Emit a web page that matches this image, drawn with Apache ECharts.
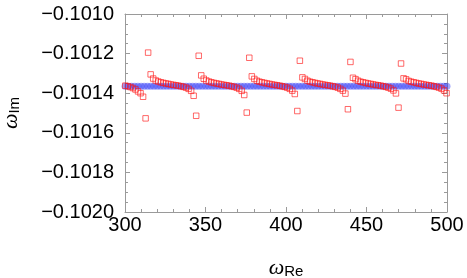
<!DOCTYPE html>
<html>
<head>
<meta charset="utf-8">
<script src="https://cdn.jsdelivr.net/npm/echarts@6/dist/echarts.min.js"></script>
<style>
html,body{margin:0;padding:0;background:#fff;}
#chart{width:467px;height:278px;}
</style>
</head>
<body>
<div id="chart"></div>
<script>
// Red squares: omega_Re and omega_Im
const redRe = [
300.23,301.80,303.37,304.94,306.51,308.08,309.65,311.23,
312.80,314.37,315.94,317.51,319.08,320.65,322.22,323.79,325.36,326.93,328.50,330.08,331.65,333.22,334.79,336.36,337.93,339.50,341.07,342.64,
344.21,345.78,347.35,348.92,350.50,352.07,353.64,355.21,356.78,358.35,359.92,361.49,363.06,364.63,366.20,367.77,369.35,370.92,372.49,374.06,
375.63,377.20,378.77,380.34,381.91,383.48,385.05,386.62,388.19,389.77,391.34,392.91,394.48,396.05,397.62,399.19,400.76,402.33,403.90,405.47,
407.04,408.61,410.19,411.76,413.33,414.90,416.47,418.04,419.61,421.18,422.75,424.32,425.89,427.46,429.04,430.61,432.18,433.75,435.32,436.89,
438.46,440.03,441.60,443.17,444.74,446.31,447.88,449.45,451.03,452.60,454.17,455.74,457.31,458.88,460.45,462.02,463.59,465.16,466.73,468.30,
469.88,471.45,473.02,474.59,476.16,477.73,479.30,480.87,482.44,484.01,485.58,487.15,488.72,490.30,491.87,493.44,495.01,496.58,498.15,499.72
];
const redIm = [
-0.101362,-0.101365,-0.101369,-0.101374,-0.101381,-0.101391,-0.101400,-0.101418,
-0.101527,-0.101195,-0.101305,-0.101326,-0.101336,-0.101341,-0.101345,-0.101348,-0.101351,-0.101353,-0.101356,-0.101358,-0.101360,-0.101362,-0.101365,-0.101368,-0.101372,-0.101378,-0.101388,-0.101413,
-0.101514,-0.101211,-0.101310,-0.101327,-0.101336,-0.101341,-0.101345,-0.101348,-0.101351,-0.101353,-0.101356,-0.101358,-0.101360,-0.101362,-0.101365,-0.101368,-0.101372,-0.101378,-0.101388,-0.101409,
-0.101498,-0.101221,-0.101315,-0.101328,-0.101337,-0.101342,-0.101345,-0.101348,-0.101351,-0.101353,-0.101356,-0.101358,-0.101360,-0.101362,-0.101365,-0.101368,-0.101372,-0.101378,-0.101387,-0.101404,
-0.101490,-0.101236,-0.101320,-0.101328,-0.101337,-0.101342,-0.101345,-0.101348,-0.101351,-0.101353,-0.101356,-0.101358,-0.101360,-0.101362,-0.101365,-0.101368,-0.101372,-0.101378,-0.101387,-0.101402,
-0.101481,-0.101242,-0.101322,-0.101329,-0.101337,-0.101342,-0.101345,-0.101348,-0.101351,-0.101353,-0.101356,-0.101358,-0.101360,-0.101362,-0.101365,-0.101368,-0.101372,-0.101377,-0.101386,-0.101401,
-0.101473,-0.101250,-0.101325,-0.101330,-0.101338,-0.101342,-0.101345,-0.101348,-0.101351,-0.101353,-0.101356,-0.101358,-0.101360,-0.101362,-0.101365,-0.101368,-0.101372,-0.101377,-0.101386,-0.101400
];
// Blue points (dense band)
const blueRe = [
300,302,304,306,308,310,312,314,316,318,320,322,324,326,328,330,332,334,336,338,
340,342,344,346,348,350,352,354,356,358,360,362,364,366,368,370,372,374,376,378,
380,382,384,386,388,390,392,394,396,398,400,402,404,406,408,410,412,414,416,418,
420,422,424,426,428,430,432,434,436,438,440,442,444,446,448,450,452,454,456,458,
460,462,464,466,468,470,472,474,476,478,480,482,484,486,488,490,492,494,496,498,500
];
const blueIm = [
-0.101365,-0.101365,-0.101365,-0.101365,-0.101365,-0.101365,-0.101365,-0.101365,-0.101365,-0.101365,
-0.101365,-0.101365,-0.101365,-0.101365,-0.101365,-0.101365,-0.101365,-0.101365,-0.101365,-0.101365,
-0.101365,-0.101365,-0.101365,-0.101365,-0.101365,-0.101365,-0.101365,-0.101365,-0.101365,-0.101365,
-0.101365,-0.101365,-0.101365,-0.101365,-0.101365,-0.101365,-0.101365,-0.101365,-0.101365,-0.101365,
-0.101365,-0.101365,-0.101365,-0.101365,-0.101365,-0.101365,-0.101365,-0.101365,-0.101365,-0.101365,
-0.101365,-0.101365,-0.101365,-0.101365,-0.101365,-0.101365,-0.101365,-0.101365,-0.101365,-0.101365,
-0.101365,-0.101365,-0.101365,-0.101365,-0.101365,-0.101365,-0.101365,-0.101365,-0.101365,-0.101365,
-0.101365,-0.101365,-0.101365,-0.101365,-0.101365,-0.101365,-0.101365,-0.101365,-0.101365,-0.101365,
-0.101365,-0.101365,-0.101365,-0.101365,-0.101365,-0.101365,-0.101365,-0.101365,-0.101365,-0.101365,
-0.101365,-0.101365,-0.101365,-0.101365,-0.101365,-0.101365,-0.101365,-0.101365,-0.101365,-0.101365,
-0.101365
];
const xMin = 300, xMax = 500, xStep = 50;
const yMin = -0.1020, yMax = -0.1010, yStep = 0.0002;

const axisGray = '#9a9a9a';
const font = 'Liberation Sans, Arial, sans-serif';

function frameAxis(extra) {
  return Object.assign({
    type: 'value',
    axisLine: { show: true, onZero: false, lineStyle: { color: axisGray, width: 1 } },
    axisTick: { show: true, inside: true, length: 5, lineStyle: { color: axisGray } },
    minorTick: { show: true, length: 3, lineStyle: { color: axisGray } },
    splitLine: { show: false },
    minorSplitLine: { show: false }
  }, extra);
}

const chart = echarts.init(document.getElementById('chart'), null, { renderer: 'canvas' });
chart.setOption({
  animation: false,
  backgroundColor: '#fff',
  grid: { left: 125, right: 20, top: 14, bottom: 66, containLabel: false, outerBoundsMode: 'none' },
  xAxis: [
    frameAxis({
      min: xMin, max: xMax, interval: xStep, position: 'bottom',
      minorTick: { show: true, splitNumber: 5, length: 3, lineStyle: { color: axisGray } },
      axisLabel: { fontSize: 20, color: '#000', fontFamily: font, margin: 3 },
      name: '{w|ω}{s|Re}', nameLocation: 'middle', nameGap: 41,
      nameTextStyle: {
        rich: {
          w: { fontSize: 22, fontStyle: 'italic', fontFamily: 'Liberation Serif', color: '#000', lineHeight: 26, verticalAlign: 'bottom' },
          s: { fontSize: 15, fontFamily: font, color: '#000', lineHeight: 14, verticalAlign: 'bottom' }
        }
      }
    }),
    frameAxis({
      min: xMin, max: xMax, interval: xStep, position: 'top',
      minorTick: { show: true, splitNumber: 5, length: 3, lineStyle: { color: axisGray } },
      axisLabel: { show: false }
    })
  ],
  yAxis: [
    frameAxis({
      min: yMin, max: yMax, interval: yStep, position: 'left',
      minorTick: { show: true, splitNumber: 4, length: 3, lineStyle: { color: axisGray } },
      axisLabel: {
        fontSize: 20, color: '#000', fontFamily: font, margin: 11,
        formatter: v => '\u2212' + Math.abs(v).toFixed(4)
      },
      name: '{w|ω}{s|Im}', nameLocation: 'middle', nameGap: 103,
      nameTextStyle: {
        rich: {
          w: { fontSize: 22, fontStyle: 'italic', fontFamily: 'Liberation Serif', color: '#000', lineHeight: 26, verticalAlign: 'bottom' },
          s: { fontSize: 15, fontFamily: font, color: '#000', lineHeight: 14, verticalAlign: 'bottom' }
        }
      }
    }),
    frameAxis({
      min: yMin, max: yMax, interval: yStep, position: 'right',
      minorTick: { show: true, splitNumber: 4, length: 3, lineStyle: { color: axisGray } },
      axisLabel: { show: false }
    })
  ],
  series: [
    {
      type: 'scatter',
      xAxisIndex: 0, yAxisIndex: 0,
      data: blueRe.map((x, i) => [x, blueIm[i]]),
      symbol: 'circle', symbolSize: 7,
      itemStyle: { color: 'rgba(40,50,245,0.55)' },
      clip: true, z: 2
    },
    {
      type: 'scatter',
      xAxisIndex: 0, yAxisIndex: 0,
      data: redRe.map((x, i) => [x, redIm[i]]),
      symbol: 'rect', symbolSize: 5.5,
      itemStyle: { color: 'rgba(0,0,0,0)', borderColor: 'rgba(255,20,20,0.8)', borderWidth: 1 },
      clip: true, z: 3
    }
  ]
});
</script>
</body>
</html>
